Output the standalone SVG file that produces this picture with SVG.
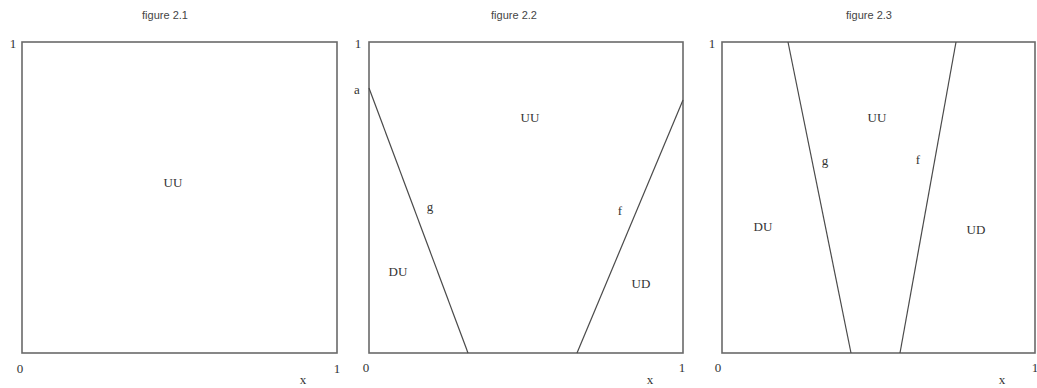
<svg xmlns="http://www.w3.org/2000/svg" width="1037" height="388" viewBox="0 0 1037 388">
<style>
.box{fill:none;stroke:#6a6a6a;stroke-width:1.6}
.ln{fill:none;stroke:#4a4a4a;stroke-width:1.2}
.t{font-family:"Liberation Serif",serif;font-size:13px;fill:#333;text-anchor:middle}
.s{font-family:"Liberation Sans",sans-serif;font-size:11px;fill:#444;text-anchor:middle}
</style>
<rect width="1037" height="388" fill="#fff"/>
<g id="fig1">
<text class="s" x="165" y="19">figure 2.1</text>
<rect class="box" x="22" y="42" width="315" height="311"/>
<text class="t" x="13" y="48">1</text>
<text class="t" x="20" y="373">0</text>
<text class="t" x="337" y="373">1</text>
<text class="t" x="303" y="384">x</text>
<text class="t" x="173" y="187">UU</text>
</g>
<g id="fig2">
<text class="s" x="514" y="19">figure 2.2</text>
<rect class="box" x="369" y="42" width="314" height="311"/>
<text class="t" x="358" y="48">1</text>
<text class="t" x="357" y="94">a</text>
<text class="t" x="366" y="372">0</text>
<text class="t" x="682" y="372">1</text>
<text class="t" x="650" y="384">x</text>
<text class="t" x="530" y="122">UU</text>
<text class="t" x="430" y="211">g</text>
<text class="t" x="620" y="215">f</text>
<text class="t" x="398" y="276">DU</text>
<text class="t" x="641" y="288">UD</text>
</g>
<g id="fig3">
<text class="s" x="869" y="19">figure 2.3</text>
<rect class="box" x="722" y="42" width="313" height="311"/>
<text class="t" x="712" y="48">1</text>
<text class="t" x="718" y="372">0</text>
<text class="t" x="1035" y="372">1</text>
<text class="t" x="1002" y="384">x</text>
<text class="t" x="877" y="122">UU</text>
<text class="t" x="825" y="165">g</text>
<text class="t" x="918" y="164">f</text>
<text class="t" x="763" y="231">DU</text>
<text class="t" x="976" y="234">UD</text>
</g>
<g id="connectors">
<line class="ln" x1="369" y1="88" x2="468" y2="353"/>
<line class="ln" x1="683" y1="100" x2="577" y2="353"/>
<line class="ln" x1="788" y1="42" x2="851" y2="353"/>
<line class="ln" x1="956" y1="42" x2="900" y2="353"/>
</g>
</svg>
